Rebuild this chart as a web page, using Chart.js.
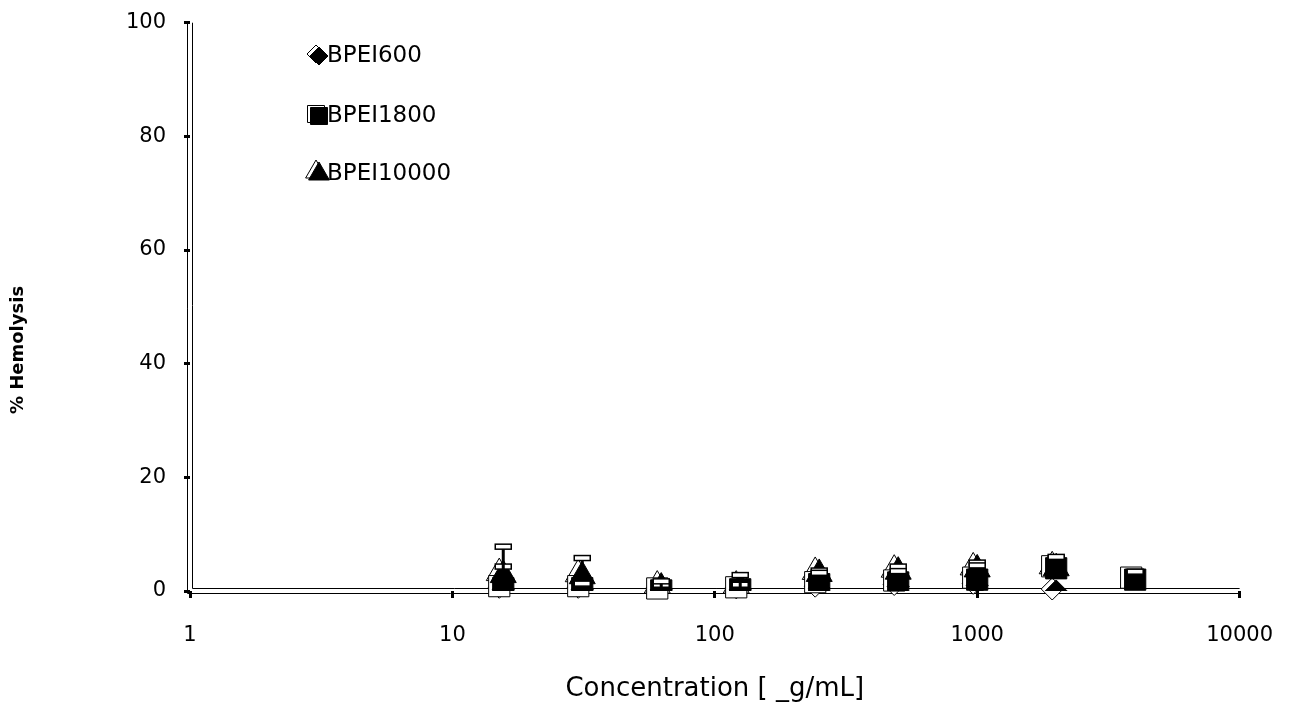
<!DOCTYPE html>
<html>
<head>
<meta charset="utf-8">
<script src="https://cdn.jsdelivr.net/npm/chart.js@4/dist/chart.umd.min.js"></script>
<style>
  body { margin: 0; background: #fff; }
</style>
</head>
<body>
<canvas id="hemoChart" width="1298" height="709"></canvas>
<script>
// concentrations (ug/mL) and % hemolysis
const conc = [15.625, 31.25, 62.5, 125, 250, 500, 1000, 2000, 4000];
const bpei600 = [0.3, 0.3, 0.2, 0.2, 0.5, 0.8, 1.0, 0.0];
const bpei1800 = [0.5, 0.5, 0.1, 0.3, 1.2, 1.5, 2.0, 4.0, 2.0];
const bpei10000 = [2.8, 2.6, 0.6, 0.6, 3.0, 3.4, 3.8, 4.0];
// upper error bars
const err1800 = [7.3, 0.8, 1.6, 2.5, 2.0, 2.0, 2.5, 2.0, 1.4];
const err10000 = [1.5, 3.2, 0.5, 0.5, 0.6, 0.9, 1.2, 1.8];
const xTicks = [1, 10, 100, 1000, 10000];
const seriesNames = ['BPEI600', 'BPEI1800', 'BPEI10000'];

function pts(vals) {
  return vals.map((v, i) => ({ x: conc[i], y: v }));
}

// hollow "shadow" outline behind each marker, as in the old figure
const markerShadow = {
  id: 'markerShadow',
  beforeDatasetsDraw(chart) {
    const ctx = chart.ctx;
    ctx.save();
    chart.data.datasets.forEach((ds, di) => {
      chart.getDatasetMeta(di).data.forEach(el => {
        ctx.fillStyle = '#fff';
        ctx.strokeStyle = '#000';
        Chart.helpers.drawPoint(ctx, { pointStyle: ds.pointStyle, radius: ds.pointRadius, borderWidth: 1 },
          el.x - 4, el.y - 2);
      });
    });
    ctx.restore();
  }
};

const errorBars = {
  id: 'errorBars',
  afterDatasetsDraw(chart) {
    const ctx = chart.ctx;
    const xs = chart.scales.x, ys = chart.scales.y;
    ctx.save();
    ctx.strokeStyle = '#000';
    chart.data.datasets.forEach(ds => {
      if (!ds.err) return;
      ds.data.forEach((p, i) => {
        const e = ds.err[i];
        if (!e) return;
        const px = xs.getPixelForValue(p.x);
        const y0 = ys.getPixelForValue(p.y);
        const y1 = ys.getPixelForValue(p.y + e);
        ctx.lineWidth = 3;
        ctx.beginPath();
        ctx.moveTo(px, y0);
        ctx.lineTo(px, y1);
        ctx.stroke();
        ctx.lineWidth = 1.5;
        ctx.fillStyle = '#fff';
        ctx.fillRect(px - 8, y1 - 2.5, 16, 5);
        ctx.strokeRect(px - 8, y1 - 2.5, 16, 5);
      });
    });
    ctx.restore();
  }
};

// double-line axes like the original
const doubleAxes = {
  id: 'doubleAxes',
  beforeDatasetsDraw(chart) {
    const a = chart.chartArea;
    const ctx = chart.ctx;
    ctx.save();
    ctx.strokeStyle = '#000';
    ctx.lineWidth = 1;
    ctx.beginPath();
    ctx.moveTo(a.left - 2.5, a.bottom + 2.5); ctx.lineTo(a.right, a.bottom + 2.5);
    ctx.moveTo(a.left + 2.5, a.bottom - 2.5); ctx.lineTo(a.right, a.bottom - 2.5);
    ctx.moveTo(a.left - 2.5, a.bottom + 2.5); ctx.lineTo(a.left - 2.5, a.top);
    ctx.moveTo(a.left + 2.5, a.bottom - 2.5); ctx.lineTo(a.left + 2.5, a.top);
    ctx.stroke();
    ctx.restore();
  }
};

// legend inside the plot (top left) and the y title
const insideLegend = {
  id: 'insideLegend',
  afterDraw(chart) {
    const ctx = chart.ctx;
    const rows = [55, 115, 173];
    const styles = ['rectRot', 'rect', 'triangle'];
    const radii = [9, 12, 12];
    ctx.save();
    ctx.font = '23px "DejaVu Sans", Verdana, sans-serif';
    ctx.textBaseline = 'middle';
    rows.forEach((y, i) => {
      ctx.fillStyle = '#fff';
      ctx.strokeStyle = '#000';
      Chart.helpers.drawPoint(ctx, { pointStyle: styles[i], radius: radii[i], borderWidth: 1 }, 316, y - 1);
      ctx.fillStyle = '#000';
      Chart.helpers.drawPoint(ctx, { pointStyle: styles[i], radius: radii[i], borderWidth: 1 }, 319, y + 1);
      ctx.fillText(seriesNames[i], 327, y + 1);
    });
    ctx.translate(18, 350);
    ctx.rotate(-Math.PI / 2);
    ctx.font = 'bold 18px "DejaVu Sans", sans-serif';
    ctx.textAlign = 'center';
    ctx.fillText('% Hemolysis', 0, 0);
    ctx.restore();
  }
};

const ctx = document.getElementById('hemoChart').getContext('2d');
new Chart(ctx, {
  type: 'scatter',
  data: {
    datasets: [
      { label: seriesNames[0], data: pts(bpei600), pointStyle: 'rectRot', pointRadius: 11,
        backgroundColor: '#000', borderColor: '#000' },
      { label: seriesNames[2], data: pts(bpei10000), err: err10000, pointStyle: 'triangle', pointRadius: 15,
        backgroundColor: '#000', borderColor: '#000' },
      { label: seriesNames[1], data: pts(bpei1800), err: err1800, pointStyle: 'rect', pointRadius: 15,
        backgroundColor: '#000', borderColor: '#000' }
    ]
  },
  options: {
    responsive: false,
    animation: false,
    layout: { padding: { top: 2, right: 48, left: 0, bottom: 0 } },
    plugins: { legend: { display: false }, tooltip: { enabled: false } },
    scales: {
      x: {
        type: 'logarithmic',
        min: 1, max: 10000,
        afterBuildTicks: s => { s.ticks = xTicks.map(v => ({ value: v })); },
        afterFit: s => { s.height = 118; },
        border: { display: false },
        grid: { drawOnChartArea: false, color: '#000', tickLength: 7, lineWidth: 3 },
        ticks: { color: '#000', font: { family: 'DejaVu Sans', size: 21 }, padding: 25,
                 maxRotation: 0, callback: v => String(v) },
        title: { display: true, text: 'Concentration [ _g/mL]', color: '#000',
                 font: { family: 'DejaVu Sans', size: 26 }, padding: { top: 0 } }
      },
      y: {
        min: 0, max: 100,
        afterFit: s => { s.width = 190; },
        border: { display: false },
        grid: { drawOnChartArea: false, color: '#000', tickLength: 6, lineWidth: 3 },
        ticks: { stepSize: 20, color: '#000', font: { family: 'DejaVu Sans', size: 21, lineHeight: 0.45 }, padding: 18 },
        title: { display: false }
      }
    }
  },
  plugins: [doubleAxes, markerShadow, errorBars, insideLegend]
});
</script>
</body>
</html>
